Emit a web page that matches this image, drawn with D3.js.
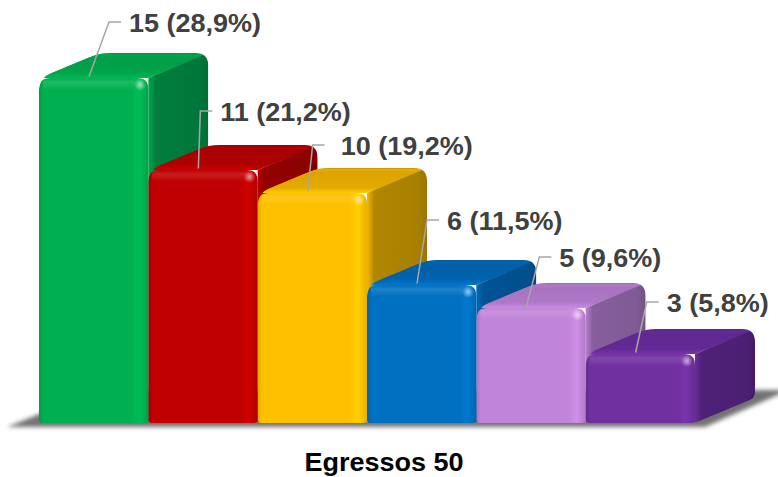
<!DOCTYPE html>
<html>
<head>
<meta charset="utf-8">
<script src="https://cdn.jsdelivr.net/npm/d3@7"></script>
<style>
  html, body { margin: 0; padding: 0; background: #ffffff; }
  svg { display: block; }
</style>
</head>
<body>
<svg id="chart" width="778" height="477"></svg>
<script>
// ---- data ----
const categories = ["Egressos 50"];
const seriesNames = ["Série 1", "Série 2", "Série 3", "Série 4", "Série 5", "Série 6"];
const values = [15, 11, 10, 6, 5, 3];
const percentLabels = ["28,9%", "21,2%", "19,2%", "11,5%", "9,6%", "5,8%"];
const yTicks = [0, 15];

// ---- colours (front, top, side) ----
const frontColors = ["#00b050", "#c00000", "#ffc000", "#0070c0", "#c084d8", "#7030a0"];
const topColors   = ["#009e48", "#a80000", "#dca400", "#0060a8", "#a873c0", "#5f2890"];
const sideColors  = ["#00773a", "#8c0000", "#a88000", "#004f8c", "#7f5a94", "#4b1f72"];

// ---- layout ----
const DX = 60, DY = -25;              // 3-D depth offset
const baseY = 423;
const svg = d3.select("#chart");
const defs = svg.append("defs");

const x = d3.scaleBand().domain(d3.range(values.length)).range([39, 695]).padding(0);
const y = d3.scaleLinear().domain([yTicks[0], yTicks[1]]).range([baseY, 78]);
const xCat = d3.scaleBand().domain(categories).range([39, 729]);

// polygon with rounded corners (quadratic corner cuts)
function roundedPoly(pts, radii) {
  const n = pts.length;
  const p = d3.path();
  for (let i = 0; i < n; i++) {
    const P = pts[i], A = pts[(i - 1 + n) % n], B = pts[(i + 1) % n];
    const r = radii[i];
    const la = Math.hypot(A[0] - P[0], A[1] - P[1]);
    const lb = Math.hypot(B[0] - P[0], B[1] - P[1]);
    const ra = Math.min(r, la / 2), rb = Math.min(r, lb / 2);
    const p1 = [P[0] + (A[0] - P[0]) * ra / la, P[1] + (A[1] - P[1]) * ra / la];
    const p2 = [P[0] + (B[0] - P[0]) * rb / lb, P[1] + (B[1] - P[1]) * rb / lb];
    if (i === 0) p.moveTo(p1[0], p1[1]); else p.lineTo(p1[0], p1[1]);
    p.quadraticCurveTo(P[0], P[1], p2[0], p2[1]);
  }
  p.closePath();
  return p.toString();
}

function linGrad(id, x1, y1, x2, y2, stops) {
  const g = defs.append("linearGradient").attr("id", id)
    .attr("x1", x1).attr("y1", y1).attr("x2", x2).attr("y2", y2);
  stops.forEach(s => g.append("stop").attr("offset", s[0]).attr("stop-color", s[1]).attr("stop-opacity", s[2] == null ? 1 : s[2]));
  return `url(#${id})`;
}

// floor shadow
defs.append("filter").attr("id", "soft").attr("x", "-10%").attr("y", "-50%").attr("width", "120%").attr("height", "200%")
  .append("feGaussianBlur").attr("stdDeviation", 2.2);
const x0First = x(0), xLastEnd = x(values.length - 1) + x.bandwidth();
svg.append("path")
  .attr("d", d3.line()([
    [x0First - 32, baseY + 4], [xLastEnd + 10, baseY + 4],
    [xLastEnd + DX + 34, baseY + DY - 8], [x0First + DX, baseY + DY - 8]
  ]) + "Z")
  .attr("fill", "#3c3c3c").attr("opacity", 0.72).attr("filter", "url(#soft)");

// specular highlight
const spec = defs.append("radialGradient").attr("id", "spec");
spec.append("stop").attr("offset", 0).attr("stop-color", "#fff").attr("stop-opacity", 0.55);
spec.append("stop").attr("offset", 1).attr("stop-color", "#fff").attr("stop-opacity", 0);

// ---- bars ----
const bars = svg.append("g").attr("class", "bars");
values.forEach((v, i) => {
  const x0 = x(i), w = x.bandwidth(), yt = y(v), yb = y(0);
  const f = d3.color(frontColors[i]), t = d3.color(topColors[i]), s = d3.color(sideColors[i]);

  const silhouette = roundedPoly(
    [[x0, yb], [x0, yt], [x0 + DX, yt + DY], [x0 + w + DX, yt + DY], [x0 + w + DX, yb + DY], [x0 + w, yb]],
    [3, 13, 11, 13, 6, 4]);
  defs.append("clipPath").attr("id", "clip" + i).append("path").attr("d", silhouette);

  const g = bars.append("g").attr("clip-path", `url(#clip${i})`);

  // top face
  const topFill = linGrad("top" + i, 0, 1, 0, 0, [
    [0, f.brighter(0.15).formatHex()], [0.22, t.brighter(0.1).formatHex()],
    [0.8, t.formatHex()], [0.93, t.brighter(0.15).formatHex()], [1, t.darker(0.3).formatHex()]]);
  g.append("path")
    .attr("d", d3.line()([[x0, yt], [x0 + DX, yt + DY], [x0 + w + DX + 2, yt + DY], [x0 + w, yt]]) + "Z")
    .attr("fill", topFill);

  // side face
  const sideFill = linGrad("side" + i, 0, 0, 1, 0, [
    [0, f.darker(0.1).formatHex()], [0.12, s.brighter(0.15).formatHex()],
    [0.85, s.formatHex()], [1, s.darker(0.25).formatHex()]]);
  g.append("path")
    .attr("d", d3.line()([[x0 + w, yt], [x0 + w + DX, yt + DY], [x0 + w + DX, yb + DY], [x0 + w, yb]]) + "Z")
    .attr("fill", sideFill);

  // front face
  const frontFill = linGrad("front" + i, 0, 0, 1, 0, [
    [0, f.darker(0.35).formatHex()], [0.04, f.formatHex()], [0.84, f.formatHex()],
    [0.92, f.brighter(0.22).formatHex()], [1, f.darker(0.25).formatHex()]]);
  g.append("path")
    .attr("d", roundedPoly([[x0, yb], [x0, yt], [x0 + w, yt], [x0 + w, yb]], [3, 11, 11, 3]))
    .attr("fill", frontFill);

  // rounded front/top edge sheen
  const sheen = linGrad("sheen" + i, 0, 0, 0, 1, [
    [0, "#ffffff", 0], [0.35, "#ffffff", 0.12], [1, "#ffffff", 0]]);
  g.append("rect").attr("x", x0 + 4).attr("y", yt).attr("width", w - 10).attr("height", 12)
    .attr("fill", sheen);

  // highlight near the front top-right corner
  g.append("circle").attr("cx", x0 + w - 8).attr("cy", yt + 7).attr("r", 6).attr("fill", "url(#spec)");
});

// ---- data labels with leader lines ----
// [leader corner dx, leader corner dy, gap from leader to text]
const labelShift = [[20, -56, 8], [2, -59, 8], [5, -48, 16], [10, -65, 8], [13, -51, 8], [11, -52, 8]];
const labels = svg.append("g").attr("class", "labels");
values.forEach((v, i) => {
  const ex = x(i) + 50, ey = y(v) - 1.5;
  const cx = ex + labelShift[i][0], cy = y(v) + labelShift[i][1];
  labels.append("path")
    .attr("d", d3.line()([[ex, ey], [cx, cy], [cx + 12, cy]]))
    .attr("fill", "none").attr("stroke", "#a6a6a6").attr("stroke-width", 1.5);
  labels.append("text")
    .attr("transform", `translate(${cx + 12 + labelShift[i][2]},${cy + 10}) scale(1.08,1)`)
    .attr("font-family", "'Liberation Sans', Arial, sans-serif")
    .attr("font-weight", "bold").attr("font-size", 25)
    .attr("fill", "#404040")
    .text(`${v} (${percentLabels[i]})`);
});

// ---- category axis ----
const axis = svg.append("g").attr("transform", `translate(0,${baseY})`)
  .call(d3.axisBottom(xCat).tickSize(0).tickPadding(0));
axis.select(".domain").remove();
axis.selectAll("text")
  .attr("y", 0).attr("dy", 0)
  .attr("transform", `translate(0,48) scale(1.08,1)`)
  .attr("x", 0)
  .attr("font-family", "'Liberation Sans', Arial, sans-serif")
  .attr("font-weight", "bold").attr("font-size", 25)
  .attr("fill", "#000000");
</script>
</body>
</html>
